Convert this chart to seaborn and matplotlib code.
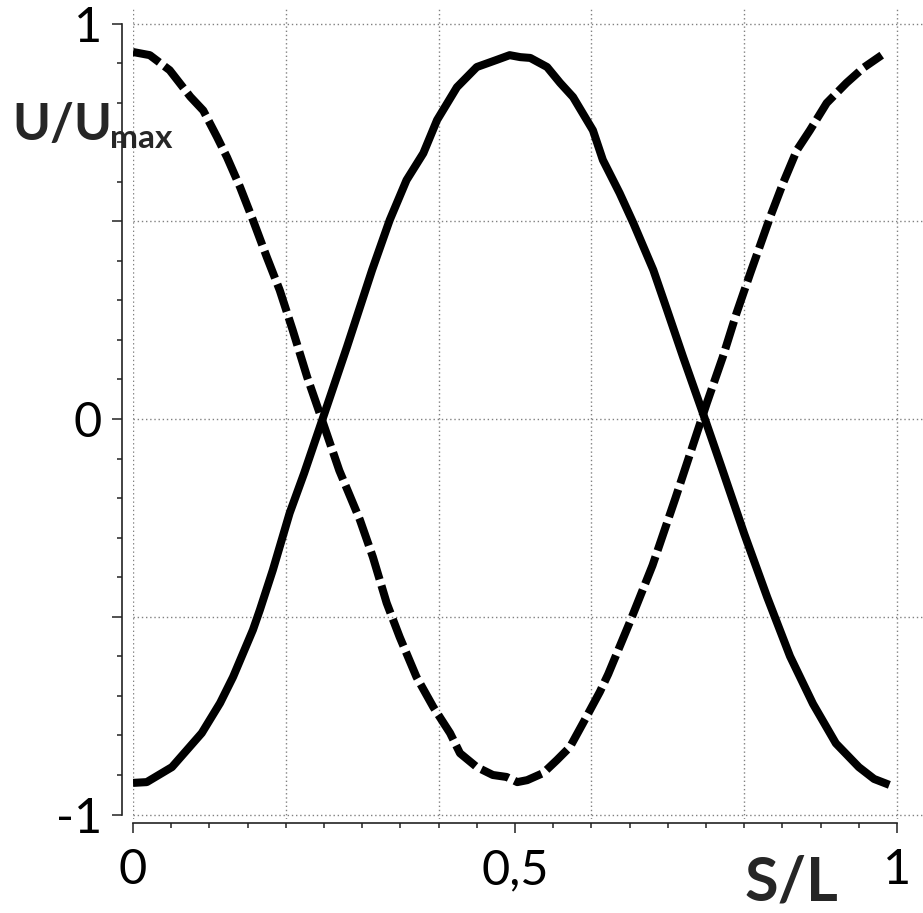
import matplotlib
matplotlib.use("Agg")
import matplotlib.pyplot as plt
import matplotlib.ticker as mticker
import seaborn as sns
import pandas as pd

# ---- data ----
solid_x = [0.0, 0.018, 0.051, 0.09, 0.114, 0.131, 0.157, 0.166, 0.183, 0.205, 0.224,
           0.249, 0.28, 0.313, 0.336, 0.358, 0.38, 0.398, 0.424, 0.45, 0.476, 0.493,
           0.507, 0.52, 0.542, 0.559, 0.576, 0.602, 0.615, 0.637, 0.655, 0.681, 0.699,
           0.72, 0.745, 0.77, 0.8, 0.83, 0.86, 0.89, 0.92, 0.95, 0.97, 0.99]
solid_y = [-0.92, -0.918, -0.88, -0.794, -0.718, -0.652, -0.533, -0.483, -0.382, -0.238, -0.137,
           0.005, 0.182, 0.377, 0.503, 0.604, 0.672, 0.756, 0.839, 0.89, 0.908, 0.92,
           0.915, 0.913, 0.89, 0.85, 0.814, 0.73, 0.655, 0.571, 0.495, 0.377, 0.276,
           0.157, 0.02, -0.12, -0.29, -0.45, -0.6, -0.72, -0.82, -0.88, -0.91, -0.925]

dashed_x = [0.0, 0.022, 0.048, 0.075, 0.092, 0.11, 0.123, 0.14, 0.157, 0.175, 0.192, 0.209,
            0.228, 0.247, 0.27, 0.297, 0.314, 0.332, 0.349, 0.371, 0.393, 0.415, 0.428,
            0.45, 0.471, 0.489, 0.503, 0.516, 0.537, 0.555, 0.572, 0.589, 0.611, 0.622,
            0.65, 0.68, 0.71, 0.751, 0.772, 0.79, 0.808, 0.834, 0.851, 0.869, 0.886,
            0.908, 0.934, 0.956, 0.98]
dashed_y = [0.928, 0.92, 0.882, 0.815, 0.78, 0.713, 0.662, 0.587, 0.503, 0.41, 0.326, 0.225,
            0.106, 0.0, -0.13, -0.255, -0.349, -0.465, -0.551, -0.652, -0.728, -0.794, -0.845,
            -0.88, -0.9, -0.905, -0.918, -0.913, -0.895, -0.862, -0.829, -0.769, -0.69, -0.645,
            -0.515, -0.37, -0.2, 0.04, 0.157, 0.268, 0.369, 0.511, 0.597, 0.68, 0.73,
            0.799, 0.85, 0.888, 0.92]

x_tick_vals = [0, 0.5, 1]
x_tick_labels = ["0", "0,5", "1"]
y_tick_vals = [-1, -0.5, 0, 0.5, 1]
y_tick_labels = ["-1", "", "0", "", "1"]
x_grid_vals = [0, 0.2, 0.4, 0.6, 0.8, 1.0]

sns.set_theme(style="white")
plt.rcParams["font.family"] = ["Lato", "DejaVu Sans"]

W, H = 923, 913
fig = plt.figure(figsize=(W / 100, H / 100), dpi=100)
ax_bottom_px, ax_top_px = 818.5, 7.7
ax = fig.add_axes([133 / W, (H - ax_bottom_px) / H, (W - 133) / W, (ax_bottom_px - ax_top_px) / H])

df_s = pd.DataFrame({"x": solid_x, "y": solid_y})
df_d = pd.DataFrame({"x": dashed_x, "y": dashed_y})

sns.lineplot(data=df_s, x="x", y="y", ax=ax, color="black", linewidth=5.8,
             sort=False, estimator=None, solid_capstyle="butt", zorder=5)
sns.lineplot(data=df_d, x="x", y="y", ax=ax, color="black", linewidth=5.8,
             sort=False, estimator=None, zorder=5)
ln = ax.lines[-1]
ln.set_dashes([3.6, 0.8])
ln.set_dash_capstyle("butt")

ax.set_xlim(0, 790 / 764)
ax.set_ylim(-1.01, 1.04)

grid_kw = dict(color="#808080", linewidth=1.0, linestyle=(0, (1, 2)))
ax.yaxis.grid(True, which="major", **grid_kw)
ax.xaxis.grid(False)
for gx in x_grid_vals:
    ax.axvline(gx, zorder=0, **grid_kw)

ax.set_xticks(x_tick_vals)
ax.set_xticklabels(x_tick_labels)
ax.set_yticks(y_tick_vals)
ax.set_yticklabels(y_tick_labels)
ax.xaxis.set_minor_locator(mticker.MultipleLocator(0.05))
ax.yaxis.set_minor_locator(mticker.MultipleLocator(0.1))

ax.tick_params(axis="both", which="major", direction="out", length=7.2, width=1.1,
               color="#222222", labelsize=35, labelcolor="black")
ax.tick_params(axis="both", which="minor", direction="out", length=3.8, width=1.1,
               color="#222222")
ax.tick_params(axis="y", which="both", left=True, pad=7)
ax.tick_params(axis="x", which="both", bottom=True, pad=11)

for s in ["top", "right"]:
    ax.spines[s].set_visible(False)
ax.spines["left"].set_position(("outward", 8))
ax.spines["bottom"].set_position(("outward", 3.3))
ax.spines["left"].set_bounds(-1, 1)
ax.spines["bottom"].set_bounds(0, 1)
for s in ["left", "bottom"]:
    ax.spines[s].set_color("#222222")
    ax.spines[s].set_linewidth(1.2)

ax.set_xlabel("")
ax.set_ylabel("")

fig.text(12 / W, 1 - 140 / H, "U/U", fontsize=37, fontweight="bold", ha="left", va="baseline")
fig.text(110 / W, 1 - 148 / H, "max", fontsize=24, fontweight="bold", ha="left", va="baseline")
fig.text(745 / W, 1 - 900 / H, "S/L", fontsize=44, fontweight="bold", ha="left", va="baseline")

fig.savefig("out.png", dpi=100)
